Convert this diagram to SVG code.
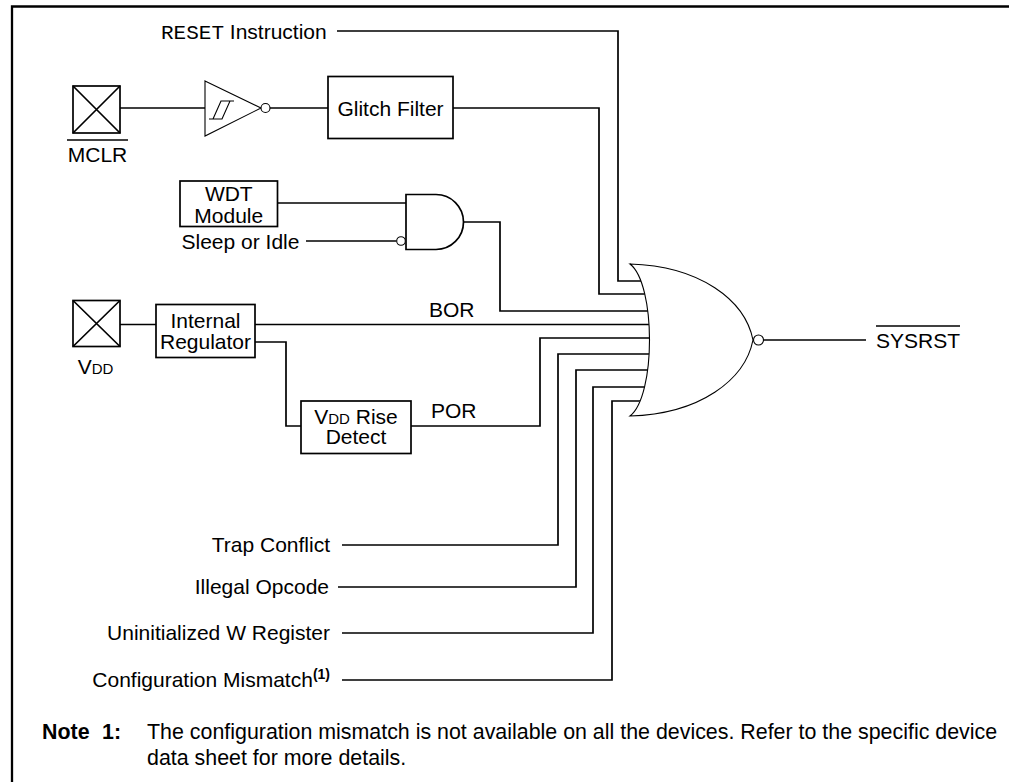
<svg xmlns="http://www.w3.org/2000/svg" width="1009" height="782" viewBox="0 0 1009 782">
<style>
text{font-family:"Liberation Sans",Arial,sans-serif;font-size:21px;fill:#000}
.mono{font-family:"Liberation Mono","Courier New",monospace}
.b{font-weight:bold}
.nt{font-size:21.4px}
.ln{fill:none;stroke:#000;stroke-width:1.7}
.box{fill:#fff;stroke:#000;stroke-width:1.7}
.thin{fill:#fff;stroke:#000;stroke-width:1.1}
</style>
<rect width="1009" height="782" fill="#fff"/>
<path d="M12,782 V6.5 H1009" fill="none" stroke="#000" stroke-width="2.3"/>

<g id="connectors" class="ln">
<path d="M337,31 H618 V281 H652"/>
<path d="M120,108 H205"/>
<path d="M270,108 H328"/>
<path d="M453,108 H599 V294 H652"/>
<path d="M278,203 H406"/>
<path d="M306,241 H396.5"/>
<path d="M463,222 H500 V311 H652"/>
<path d="M120,324.5 H156"/>
<path d="M255,324.5 H652"/>
<path d="M255,342 H286 V426 H301"/>
<path d="M411,426 H540 V338 H652"/>
<path d="M342,545 H558 V354 H652"/>
<path d="M338,587 H576 V370 H652"/>
<path d="M342,633 H593 V387 H652"/>
<path d="M342,680 H612 V401 H652"/>
<path d="M763.5,340 H866"/>
</g>

<g id="reset-instr">
<text x="161" y="38.5"><tspan class="mono">RESET</tspan> Instruction</text>
</g>

<g id="mclr-pin">
<rect class="box" x="73" y="86" width="47" height="47"/>
<path class="ln" stroke-width="1.1" d="M73,86 L120,133 M120,86 L73,133"/>
<line x1="67" y1="140" x2="128" y2="140" stroke="#000" stroke-width="1.7"/>
<text x="97.5" y="161.5" text-anchor="middle">MCLR</text>
</g>

<g id="schmitt-buffer">
<path class="thin" d="M205,81 L261,108 L205,136 Z"/>
<path fill="none" stroke="#000" stroke-width="1.1" d="M209,119 H222 L230,101 H234 M213,119 L221,101 H230"/>
<circle class="thin" cx="265.5" cy="108" r="4.5"/>
</g>

<g id="glitch-filter">
<rect class="box" x="328" y="76.5" width="125" height="62"/>
<text x="390.5" y="115.5" text-anchor="middle">Glitch Filter</text>
</g>

<g id="wdt">
<rect class="box" x="180" y="181" width="97.5" height="45.5"/>
<text x="228.8" y="200.5" text-anchor="middle">WDT</text>
<text x="228.8" y="222.5" text-anchor="middle">Module</text>
</g>

<g id="sleep-idle">
<text x="181.5" y="248.5">Sleep or Idle</text>
</g>

<g id="and-gate">
<path class="box" d="M406,194.5 H436 A27.5,27.5 0 0 1 436,249.5 H406 Z"/>
<circle class="thin" cx="401" cy="241" r="4.3"/>
</g>

<g id="vdd-pin">
<rect class="box" x="73" y="300.5" width="47" height="46"/>
<path class="ln" stroke-width="1.1" d="M73,300.5 L120,346.5 M120,300.5 L73,346.5"/>
<text x="95.5" y="374" text-anchor="middle">V<tspan font-size="15">DD</tspan></text>
</g>

<g id="internal-regulator">
<rect class="box" x="156" y="304.5" width="99" height="53"/>
<text x="205.5" y="327.5" text-anchor="middle">Internal</text>
<text x="205.5" y="349" text-anchor="middle">Regulator</text>
</g>

<g id="bor-label"><text x="429" y="316.5">BOR</text></g>
<g id="por-label"><text x="431" y="417.5">POR</text></g>

<g id="vdd-rise-detect">
<rect class="box" x="301" y="401" width="110" height="52.5"/>
<text x="356" y="424" text-anchor="middle">V<tspan font-size="15">DD</tspan> Rise</text>
<text x="356" y="444" text-anchor="middle">Detect</text>
</g>

<g id="nor-gate">
<path fill="#fff" stroke="#000" stroke-width="1.1" d="M630,264 C700,266 745,300 753,340 C745,380 700,414 630,416 C656,396 656,284 630,264 Z"/>
<circle class="thin" cx="758.5" cy="340" r="5"/>
</g>

<g id="sysrst">
<line x1="876" y1="326" x2="960" y2="326" stroke="#000" stroke-width="1.7"/>
<text x="876" y="347.5">SYSRST</text>
</g>

<g id="trap-conflict"><text x="330" y="552" text-anchor="end">Trap Conflict</text></g>
<g id="illegal-opcode"><text x="329" y="594" text-anchor="end">Illegal Opcode</text></g>
<g id="uninit-w"><text x="330" y="640" text-anchor="end">Uninitialized W Register</text></g>
<g id="config-mismatch"><text x="330" y="687" text-anchor="end">Configuration Mismatch<tspan class="b" font-size="14" dy="-8">(1)</tspan></text></g>

<g id="note">
<text class="b nt" x="42" y="739">Note</text>
<text class="b nt" x="102" y="739">1:</text>
<text class="nt" x="147" y="739">The configuration mismatch is not available on all the devices. Refer to the specific device</text>
<text class="nt" x="147" y="765">data sheet for more details.</text>
</g>
</svg>
